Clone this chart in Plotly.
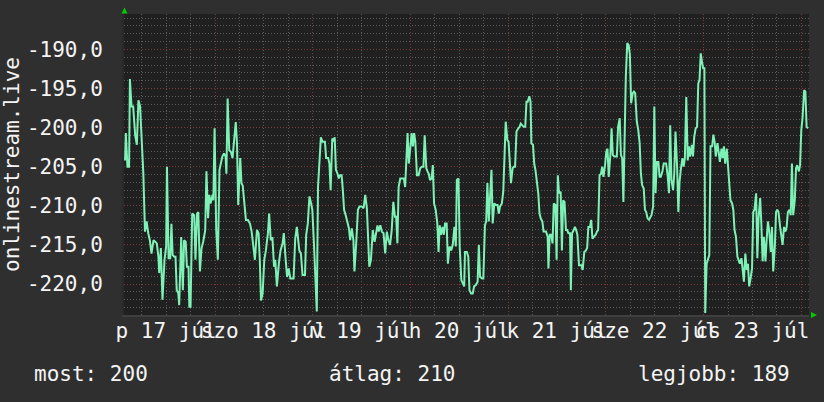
import plotly.graph_objects as go

# ---- data (hours since Jul 17 00:00, value) ----
hours = [
    1.9, 2.1, 2.5, 2.9, 3.1, 3.5, 3.9, 4.4, 4.8, 5.2, 5.6, 6.0, 6.4, 6.8, 7.2, 7.6, 8.0, 8.4, 8.9, 9.3,
    9.7, 10.1, 10.3, 10.7, 11.1, 11.6, 12.0, 12.2, 12.6, 13.0, 13.3, 13.6, 14.0, 14.3, 14.6, 15.0, 15.2, 15.7, 16.1, 16.4,
    16.8, 17.1, 17.5, 17.7, 18.0, 18.4, 18.9, 19.2, 19.6, 19.9, 20.3, 20.7, 21.1, 21.6, 21.9, 22.3, 22.6, 22.9, 23.4, 23.6,
    23.9, 24.3, 24.7, 25.1, 25.4, 25.8, 26.2, 26.6, 26.8, 27.1, 27.5, 27.9, 28.3, 28.7, 29.1, 29.4, 29.7, 30.2, 30.5, 30.8,
    31.2, 31.6, 32.1, 32.6, 33.0, 33.4, 33.8, 34.3, 34.7, 35.0, 35.3, 35.7, 36.1, 36.5, 37.0, 37.3, 37.7, 38.1, 38.5, 38.8,
    39.2, 39.7, 40.1, 40.6, 40.9, 41.3, 41.7, 42.1, 42.5, 43.3,
    43.7, 44.1, 44.4, 44.7, 45.1, 45.5, 46.1, 46.4, 46.8, 47.2, 47.6, 47.9, 48.3, 48.7, 49.0, 49.3, 49.6, 50.0, 50.4, 51.0,
    51.3, 51.8, 52.1, 52.4, 52.8, 53.1, 53.4, 53.7, 54.1, 54.4, 54.7, 55.1, 55.4, 55.7, 56.1, 56.4, 56.9, 57.2, 57.6, 58.0,
    58.25, 58.7, 59.1, 59.5, 60.0, 60.5, 60.9, 61.3, 61.6, 61.9, 62.3, 62.75, 63.2, 63.6, 63.9, 64.2, 64.6, 65.0, 65.4, 65.8,
    66.2, 66.6, 67.0, 67.4, 67.8, 68.2, 68.5, 68.8, 69.1, 69.5, 70.0, 70.4, 70.7, 70.9, 71.3, 71.6, 71.9, 72.3, 72.6, 72.9,
    73.2, 73.6, 74.0, 74.4, 74.8, 75.2, 75.5, 75.9, 76.2, 76.5, 76.8, 77.2, 77.5, 77.8, 78.2, 78.6, 78.9, 79.2, 79.5, 79.9,
    80.2, 80.5, 80.9, 81.2, 81.6, 82.0, 82.4, 82.8, 83.15, 83.4, 83.8, 84.1, 84.5, 84.9, 85.2,
    85.4, 85.85, 86.2, 86.5, 86.9, 87.3, 87.65, 88.1, 88.5, 88.8, 89.1, 89.6, 89.9, 90.3, 90.6, 90.9, 91.25, 91.6, 91.9, 92.2,
    92.6, 93.0, 93.4, 93.7, 94.0, 94.45, 94.8, 95.1, 95.4, 95.8, 96.1, 96.4, 96.7, 97.1, 97.4, 97.7, 98.05, 98.5, 98.8, 99.1,
    99.4, 99.8, 100.2, 100.5, 100.8, 101.2, 101.5, 101.7, 102.1, 102.4, 102.7, 103.05, 103.4, 103.7, 104.0, 104.4, 104.7, 105.0, 105.3, 105.7,
    105.9, 106.2, 106.6, 106.9, 107.2, 107.6, 107.9, 108.2, 108.5, 108.9, 109.2, 109.5, 109.85, 110.2, 110.5, 110.8, 111.2, 111.4, 111.7, 112.1,
    112.4, 112.7, 113.0, 113.4, 113.7, 114.0, 114.3, 114.7, 115.1, 115.4, 115.7, 116.1, 116.4, 116.7, 117.1, 117.5, 117.8, 118.1, 118.45, 118.8,
    119.1, 119.4, 119.8, 120.1, 120.4, 120.7, 121.1, 121.4, 121.7, 122.05, 122.4, 122.7, 123.0, 123.4, 123.7, 124.0, 124.3, 124.6, 124.9, 125.25,
    125.6, 125.9, 126.2, 126.6, 126.9, 127.2,
    127.6, 127.95, 128.3, 128.6, 128.9, 129.3, 129.6, 129.9, 130.25, 130.6, 130.9, 131.2, 131.6, 131.9, 132.2, 132.5, 132.9, 133.2, 133.5, 133.9,
    134.2, 134.5, 134.8, 135.2, 135.5, 135.8, 136.1, 136.5, 136.8, 137.1, 137.5, 137.8, 138.1, 138.4, 138.8, 139.1, 139.4, 139.75, 140.1, 140.4,
    140.7, 141.1, 141.4, 141.7, 142.05, 142.4, 142.7, 143.0, 143.3, 143.6, 143.9, 144.2, 144.4, 144.75, 145.1, 145.4, 145.7, 146.1, 146.4, 146.7,
    147.0, 147.4, 147.7, 148.0, 148.4, 148.7, 149.0, 149.3, 149.7, 150.0, 150.3, 150.6, 151.0, 151.3, 151.6, 151.95, 152.3, 152.6, 152.9, 153.3,
    153.6, 153.9, 154.25, 154.6, 154.9, 155.2, 155.6, 155.9, 156.2, 156.5, 156.9, 157.2, 157.5, 157.9, 158.2, 158.5, 158.8, 159.2, 159.5, 159.8,
    160.1, 160.5, 160.8, 161.1, 161.5, 161.8, 162.1, 162.4, 162.8, 163.1, 163.4, 163.75, 164.1, 164.4, 164.7, 165.1, 165.4, 165.7, 166.0, 166.4,
    166.7, 167.0, 167.4, 167.7, 168.0, 168.3, 168.7, 169.0, 169.3, 169.65,
]
values = [
    -204.2, -200.7, -205.0, -205.0, -193.8, -197.3, -197.3, -201.0, -202.2, -196.5, -197.3, -201.2, -205.9, -213.3, -212.0, -213.5, -214.4, -216.1, -214.4, -214.6,
    -214.8, -216.5, -218.6, -215.4, -222.0, -216.9, -215.2, -205.0, -216.7, -216.7, -212.3, -216.3, -216.5, -216.5, -220.8, -221.2, -222.7, -214.0, -220.8, -214.4,
    -214.6, -217.8, -217.8, -222.9, -222.9, -211.0, -211.2, -216.9, -211.0, -210.8, -218.4, -215.4, -214.6, -213.1, -205.6, -211.6, -208.6, -209.7, -208.6, -209.3,
    -200.1, -213.1, -216.9, -205.4, -204.8, -203.7, -203.3, -203.7, -205.9, -196.3, -202.9, -203.1, -203.9, -201.2, -199.3, -202.0, -209.9, -203.9, -207.1, -207.4,
    -209.3, -211.8, -211.8, -212.3, -213.3, -215.0, -216.9, -213.1, -213.5, -216.9, -222.1, -221.2, -216.9, -215.7, -213.5, -211.0, -214.4, -214.0, -217.8, -216.9,
    -220.3, -217.3, -215.7, -214.8, -213.5, -216.5, -219.1, -218.0, -219.3, -219.3,
    -214.2, -212.7, -213.95, -215.7, -216.1, -218.85, -218.85, -213.7, -212.25, -208.8, -209.7, -210.5, -214.8, -220.3, -223.5, -207.6, -205.4, -201.25, -201.8, -201.8,
    -203.9, -203.9, -204.6, -208.0, -201.4, -201.6, -201.25, -205.4, -205.9, -206.5, -206.1, -206.1, -208.0, -210.5, -211.2, -211.8, -212.9, -214.4, -212.9, -214.4,
    -218.4, -214.6, -210.5, -210.1, -210.1, -210.3, -208.6, -210.3, -215.2, -217.8, -216.9, -213.1, -214.6, -213.1, -212.5, -213.3, -212.5, -213.3, -213.5, -216.1,
    -213.3, -214.4, -215.0, -213.1, -209.5, -211.4, -211.4, -214.8, -207.6, -206.5, -206.5, -206.5, -207.6, -204.6, -200.7, -204.6, -202.9, -200.7, -202.4, -200.7,
    -201.8, -206.1, -206.1, -205.2, -205.0, -205.0, -201.0, -205.2, -205.6, -205.9, -206.7, -206.5, -204.8, -209.7, -210.5, -212.25, -215.9, -212.5, -213.7, -212.7,
    -213.7, -212.25, -212.25, -217.4, -215.2, -215.7, -215.0, -212.7, -215.2, -206.7, -206.5, -215.2, -219.5, -219.9, -220.3,
    -215.9, -215.9, -216.5, -220.8, -221.2, -221.2, -220.3, -220.1, -219.7, -215.0, -219.1, -219.3, -219.3, -212.5, -212.0, -207.1, -212.0, -208.8, -205.4, -212.25,
    -209.7, -209.9, -209.9, -211.0, -210.1, -209.7, -208.2, -203.7, -199.25, -201.6, -201.8, -204.4, -207.1, -205.2, -205.0, -205.0, -200.5, -200.1, -199.9, -199.5,
    -199.7, -199.9, -199.9, -196.7, -196.7, -196.0, -196.7, -202.0, -202.2, -204.6, -205.4, -207.1, -208.4, -211.0, -211.6, -212.0, -213.3, -213.3, -213.3, -213.95,
    -218.0, -213.7, -213.7, -214.8, -209.7, -209.9, -216.9, -206.1, -208.4, -208.2, -215.7, -209.3, -209.5, -213.1, -213.1, -213.5, -213.5, -220.8, -213.5, -213.1,
    -212.7, -213.1, -213.7, -217.6, -217.6, -217.6, -218.2, -215.9, -215.7, -215.4, -212.7, -212.7, -211.8, -214.2, -213.95, -213.7, -213.3, -213.1, -206.1, -205.9,
    -205.0, -206.3, -204.8, -203.1, -202.7, -206.3, -203.5, -200.1, -203.5, -203.7, -203.7, -203.7, -199.9, -198.8, -203.5, -203.9, -209.5, -199.9, -193.5, -189.2,
    -189.45, -190.7, -196.9, -195.6, -195.4, -195.6,
    -199.25, -200.3, -202.0, -205.9, -207.35, -207.8, -210.5, -210.8, -211.6, -211.8, -211.4, -211.2, -210.1, -197.3, -208.4, -204.4, -204.4, -206.3, -206.3, -205.6,
    -204.6, -204.6, -204.6, -206.3, -208.4, -199.7, -206.7, -208.0, -205.9, -200.5, -205.0, -210.8, -206.9, -205.4, -203.9, -205.0, -203.9, -196.1, -204.2, -202.4,
    -203.7, -202.2, -203.7, -201.2, -200.1, -199.9, -194.35, -193.9, -190.5, -191.6, -192.4, -192.4, -223.7, -217.4, -216.9, -216.3, -202.4, -202.4, -200.9, -201.8,
    -203.7, -202.0, -203.1, -204.4, -202.7, -203.9, -202.4, -204.6, -202.7, -205.4, -206.5, -209.3, -209.7, -210.5, -213.1, -213.95, -216.5, -216.9, -217.4, -216.7,
    -218.2, -219.7, -216.1, -218.2, -217.4, -220.3, -219.1, -218.0, -210.8, -210.5, -208.4, -216.7, -211.6, -209.0, -212.5, -217.1, -213.95, -217.1, -214.2, -212.0,
    -213.1, -215.9, -212.7, -218.4, -215.2, -210.8, -210.5, -210.8, -212.7, -213.95, -215.0, -212.7, -213.3, -212.7, -210.8, -210.5, -211.2, -204.6, -211.2, -209.3,
    -205.2, -204.8, -205.6, -204.8, -200.3, -198.8, -195.2, -195.4, -199.9, -200.1,
]

day_ticks = [12, 36, 60, 84, 108, 132, 156]
day_labels = ["p 17 júl", "szo 18 júl", "v 19 júl", "h 20 júl", "k 21 júl", "sze 22 júl", "cs 23 júl"]
midnights = [24, 48, 72, 96, 120, 144, 168]
y_ticks = [-220, -215, -210, -205, -200, -195, -190]
y_labels = ["-220,0", "-215,0", "-210,0", "-205,0", "-200,0", "-195,0", "-190,0"]
y_title = "onlinestream.live"
summary = ["most: 200", "átlag: 210", "legjobb: 189"]

# ---- layout constants ----
W, H = 824, 402
L, R, T, B = 124, 15, 14, 87
PW, PH = W - L - R, H - T - B
X_RANGE = [1.65, 169.89]
Y_RANGE = [-223.96, -185.48]

FONT = "DejaVu Sans Mono"
FS = 21
TXT = "#f4f4f4"
LINE = "#7ef2b6"
MINOR = "#5a5a5a"
MAJOR = "#7a3a3a"


def px(xp):
    return (xp - L) / PW


def py(yp):
    return (H - B - yp) / PH


fig = go.Figure()
fig.add_trace(go.Scatter(x=hours, y=values, mode="lines",
                         line=dict(color=LINE, width=2), hoverinfo="skip", showlegend=False))
# invisible trace to activate the label axis
fig.add_trace(go.Scatter(x=[X_RANGE[0]], y=[Y_RANGE[0]], xaxis="x2", mode="markers",
                         marker=dict(opacity=0), hoverinfo="skip", showlegend=False))

fig.update_layout(
    width=W, height=H,
    margin=dict(l=L, r=R, t=T, b=B, pad=0),
    paper_bgcolor="#2f2f2f",
    plot_bgcolor="#202020",
    font=dict(family=FONT, size=FS, color=TXT),
    xaxis=dict(
        range=X_RANGE, tickmode="array", tickvals=midnights, showticklabels=False,
        showgrid=True, gridcolor=MAJOR, griddash="1px,2px", gridwidth=1,
        minor=dict(tickmode="linear", tick0=0, dtick=6, showgrid=True,
                   gridcolor=MINOR, griddash="1px,2px", gridwidth=1),
        zeroline=False, showline=True, linecolor="#3e3e3e", linewidth=2, ticks="",
        fixedrange=True,
    ),
    xaxis2=dict(
        range=X_RANGE, overlaying="x", side="bottom", anchor="y",
        tickmode="array", tickvals=day_ticks, ticktext=day_labels, tickangle=0,
        showgrid=False, zeroline=False, showline=False, ticks="",
        ticklabelstandoff=1,
        tickfont=dict(family=FONT, size=FS, color=TXT),
    ),
    yaxis=dict(
        range=Y_RANGE, tickmode="array", tickvals=y_ticks, ticktext=y_labels,
        showgrid=True, gridcolor=MAJOR, griddash="1px,2px", gridwidth=1,
        minor=dict(tickmode="linear", tick0=0, dtick=1, showgrid=True,
                   gridcolor=MINOR, griddash="1px,2px", gridwidth=1),
        zeroline=False, showline=True, linecolor="#2a2a2a", linewidth=2, ticks="",
        ticklabelstandoff=15,
        tickfont=dict(family=FONT, size=FS, color=TXT),
    ),
    shapes=[
        dict(type="path", xref="paper", yref="paper",
             path=f"M {px(121.5)} {py(13.5)} L {px(127.5)} {py(13.5)} L {px(124.5)} {py(7.5)} Z",
             fillcolor="#00cc00", line=dict(width=0)),
        dict(type="path", xref="paper", yref="paper",
             path=f"M {px(811)} {py(312)} L {px(811)} {py(318)} L {px(817)} {py(315)} Z",
             fillcolor="#00cc00", line=dict(width=0)),
    ],
)

fig.add_annotation(x=px(12), y=py(165), xref="paper", yref="paper", text=y_title,
                   textangle=-90, showarrow=False, xanchor="center", yanchor="middle",
                   font=dict(family=FONT, size=FS, color=TXT))
for txt, xp in zip(summary, [32, 327, 636]):
    fig.add_annotation(x=px(xp), y=py(374), xref="paper", yref="paper", text=txt,
                       showarrow=False, xanchor="left", yanchor="middle",
                       font=dict(family=FONT, size=FS, color=TXT))

fig.write_html("out.html")
